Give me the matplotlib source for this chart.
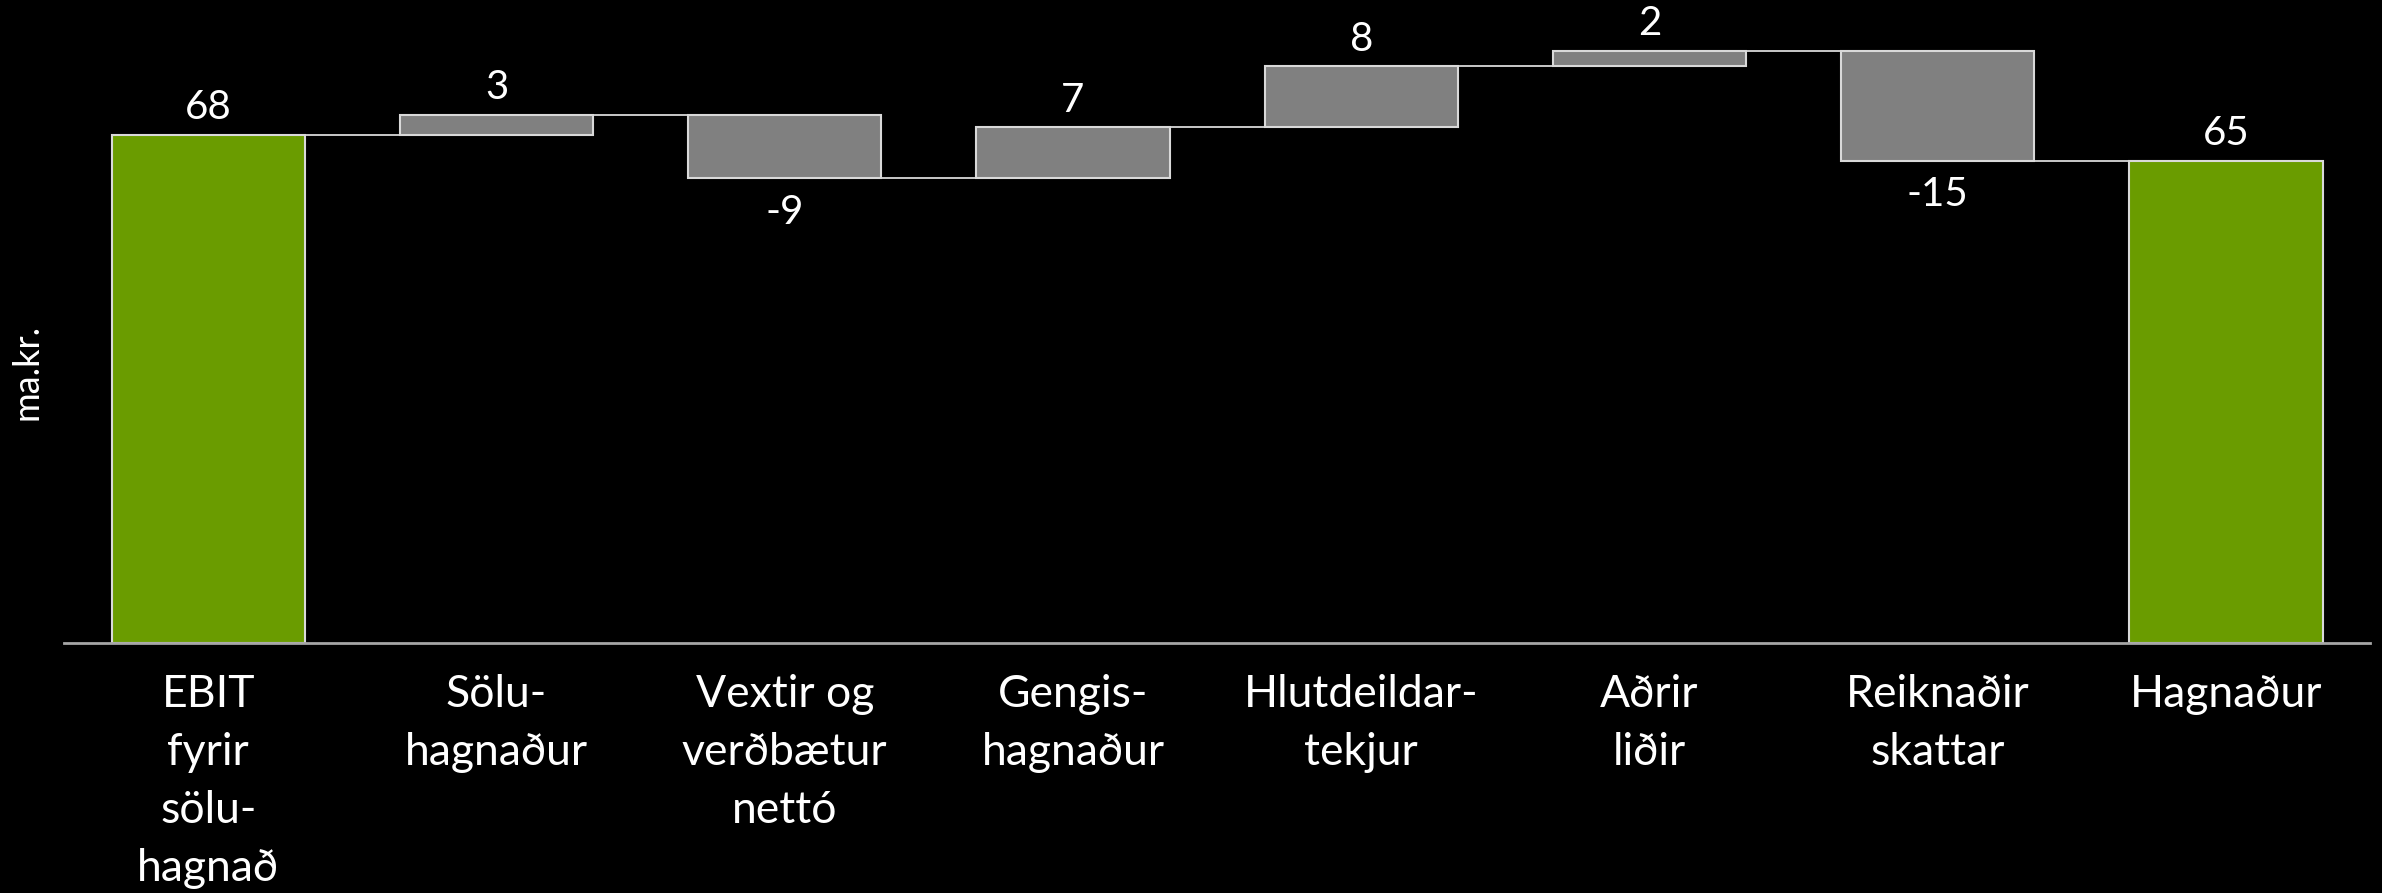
import matplotlib
matplotlib.use("Agg")
import matplotlib.pyplot as plt
import numpy as np

# gögn (ma.kr.)
flokkar = ["EBIT\nfyrir\nsölu-\nhagnað", "Sölu-\nhagnaður", "Vextir og\nverðbætur\nnettó",
           "Gengis-\nhagnaður", "Hlutdeildar-\ntekjur", "Aðrir\nliðir", "Reiknaðir\nskattar",
           "Hagnaður"]
upphaf = 68.4
breytingar = [2.7, -8.6, 6.9, 8.2, 2.1, -14.8]
lokastada = 64.9

graenn = "#6a9c00"
grar = "#808080"
jadar = "#d9d9d9"

plt.rcParams["font.family"] = ["Lato", "DejaVu Sans"]

fig = plt.figure(figsize=(23.82, 8.93), dpi=100, facecolor="black")
ax = fig.add_axes([0.0269, 0.2796, 0.9681, 0.7204])
ax.set_facecolor("black")

n = len(flokkar)
x = np.arange(n)
breidd = 0.67

# bottnar og hæðir fyrir waterfall
uppsafnad = upphaf + np.cumsum(breytingar)
fyrir = np.concatenate([[upphaf], uppsafnad[:-1]])
botnar = [0] + list(np.minimum(fyrir, uppsafnad)) + [0]
haedir = [upphaf] + list(np.abs(breytingar)) + [lokastada]
litir = [graenn] + [grar] * len(breytingar) + [graenn]

ax.bar(x, haedir, bottom=botnar, width=breidd, color=litir, edgecolor=jadar,
       linewidth=1.5, zorder=3)

# tengilínur
stig = [upphaf] + list(uppsafnad)
for i in range(n - 1):
    ax.plot([x[i] + breidd / 2, x[i + 1] - breidd / 2], [stig[i], stig[i]],
            color=jadar, linewidth=1.3, zorder=2)

# gildismerki
gildi = [upphaf] + breytingar + [lokastada]
for i, v in enumerate(gildi):
    texti = "%d" % round(v)
    if v >= 0:
        y = botnar[i] + haedir[i]
        ax.annotate(texti, (x[i], y), xytext=(0, 6), textcoords="offset points",
                    ha="center", va="bottom", color="white", fontsize=29)
    else:
        y = botnar[i]
        ax.annotate(texti, (x[i], y), xytext=(0, -11), textcoords="offset points",
                    ha="center", va="top", color="white", fontsize=29)

ax.set_xlim(-0.5, 7.5)
ax.set_ylim(0, 86.5)
ax.set_xticks(x)
ax.set_xticklabels(flokkar, color="white", fontsize=32, linespacing=1.52, va="top")
ax.tick_params(axis="x", length=0, pad=22)
ax.set_yticks([])

for s in ["top", "right", "left"]:
    ax.spines[s].set_visible(False)
ax.spines["bottom"].set_color("#a6a6a6")
ax.spines["bottom"].set_linewidth(2)
ax.spines["bottom"].set_zorder(4)

fig.text(0.0115, 0.584, "ma.kr.", rotation=90, color="white", fontsize=26,
         ha="center", va="center")

fig.savefig("out.png", dpi=100, facecolor="black")
